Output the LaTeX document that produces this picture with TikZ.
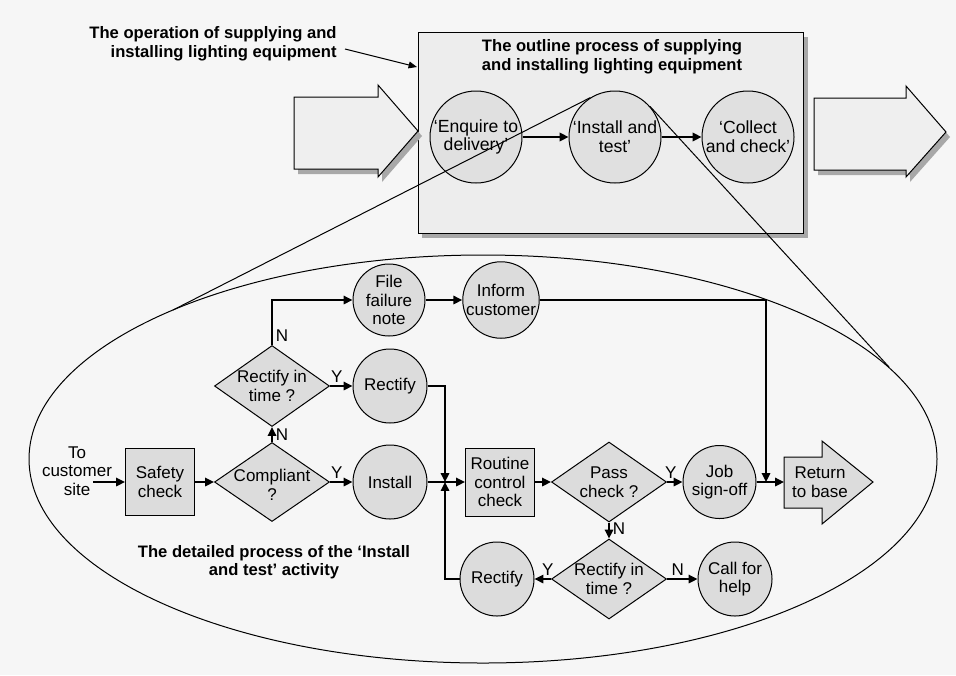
\documentclass[tikz,border=0pt]{standalone}
\usepackage{fontspec}
\setmainfont{Liberation Sans}
\usetikzlibrary{arrows.meta,shapes.geometric}
\definecolor{bg}{HTML}{F6F6F6}
\definecolor{nodefill}{HTML}{DCDCDC}
\definecolor{topfill}{HTML}{E0E0E0}
\definecolor{boxfill}{HTML}{EDEDED}
\definecolor{bigfill}{HTML}{EFEFEF}
\definecolor{shadowc}{HTML}{A8A8A8}
\begin{document}
\begin{tikzpicture}[x=0.5pt,y=-0.5pt,
  font=\fontsize{8.5}{9.3}\selectfont,
  every node/.style={inner sep=0pt},
  conn/.style={line width=0.75pt, -{Triangle[length=4.4pt,width=4.2pt]}},
  thinarrow/.style={line width=0.5pt, -{Triangle[length=4.2pt,width=3.4pt]}},
  circ/.style={circle, draw, line width=0.5pt, fill=nodefill, align=center, minimum size=37pt},
  topcirc/.style={circle, draw, line width=0.5pt, fill=topfill, align=center, minimum size=46pt, font=\fontsize{8.8}{9.4}\selectfont},
  dia/.style={diamond, draw, line width=0.5pt, fill=nodefill, minimum width=57.5pt, minimum height=40pt},
  boxn/.style={rectangle, draw, line width=0.5pt, fill=nodefill, align=center, minimum width=34.5pt, minimum height=34pt},
  txt/.style={align=center},
  yn/.style={inner sep=1.5pt},
  bold/.style={font=\fontsize{8.3}{9.3}\selectfont\bfseries}
]
\useasboundingbox (0,0) rectangle (956,675);
\fill[bg] (0,0) rectangle (956,675);

% ---- outline box with shadow
\fill[shadowc] (422,37) rectangle (808,238);
\draw[line width=0.5pt, fill=boxfill] (418,32) rectangle (803,233);

% ---- big arrows with shadow
\fill[shadowc] (298,102)--(382,102)--(382,90)--(422,136)--(382,182)--(382,174)--(298,174)--cycle;
\draw[line width=0.5pt, fill=bigfill] (294,97)--(378,97)--(378,85)--(418,131)--(378,177)--(378,169)--(294,169)--cycle;
\fill[shadowc] (818,103)--(910,103)--(910,91)--(950,137)--(910,182)--(910,175)--(818,175)--cycle;
\draw[line width=0.5pt, fill=bigfill] (814,98)--(906,98)--(906,86)--(946,132)--(906,177)--(906,170)--(814,170)--cycle;

% ---- labels
\node[bold, align=right, anchor=east] (op) at (337,44) {The operation of supplying and\\installing lighting equipment};
\coordinate (opA) at (345,49);
\coordinate (opB) at (417,67);
\draw[thinarrow] (opA) -- (opB);
\node[bold, align=center] (ttl) at (612,56.5) {The outline process of supplying\\and installing lighting equipment};

% ---- top circles
\node[topcirc] (enq) at (476,137) {‘Enquire to\\delivery’};
\node[topcirc] (ins) at (615,137) {‘Install and\\test’};
\node[topcirc] (col) at (748,137) {‘Collect\\and check’};
\draw[conn, line width=1pt] (enq) -- (ins);
\draw[conn, line width=1pt] (ins) -- (col);

% ---- ellipse and zoom lines
\draw[line width=0.5pt] (483,459) ellipse [x radius=454, y radius=204];
\coordinate (eL) at (173,310);
\coordinate (eR) at (889,367);
\draw[line width=0.5pt] (ins.122) -- (eL);
\draw[line width=0.5pt] (ins.41) -- (eR);

% ---- detailed flowchart
\node[txt] (cust) at (77,471) {To\\customer\\site};
\coordinate (custA) at (93,482);
\node[boxn, minimum height=33.5pt] (safety) at (160,482) {Safety\\check};
\node[dia, minimum height=39.5pt] (compl) at (272,482) {};
\node[txt] (complT) at (272,485) {Compliant\\?};
\node[circ] (install) at (390,482) {Install};
\node[dia, minimum height=40.5pt] (rit1) at (272,386) {};
\node[txt] (rit1T) at (272,386) {Rectify in\\time ?};
\node[circ] (rect1) at (390,386) {Rectify};
\node[circ, minimum size=36pt] (file) at (389,300) {File\\failure\\note};
\node[circ] (inform) at (501,300) {Inform\\customer};
\coordinate (j1) at (445,482);
\node[boxn] (routine) at (500,482) {Routine\\control\\check};
\node[dia] (pass) at (609,482) {};
\node[txt] (passT) at (609,482) {Pass\\check ?};
\node[circ, minimum size=36.5pt] (job) at (719.5,482) {Job\\sign-off};
\coordinate (j2) at (766,482);
\coordinate (retin) at (784,482);
\draw[line width=0.5pt, fill=nodefill] (784,457)--(822,457)--(822,441)--(873,482)--(822,524)--(822,508)--(784,508)--cycle;
\node[txt] (retT) at (820,482) {Return\\to base};
\node[dia] (rit2) at (609,579) {};
\node[txt] (rit2T) at (609,579) {Rectify in\\time ?};
\node[circ] (rect2) at (497,579) {Rectify};
\node[circ] (help) at (735,579) {Call for\\help};

\node[bold, align=center] (det) at (274,562) {The detailed process of the ‘Install\\and test’ activity};

% ---- connectors
\draw[conn] (custA) -- (safety);
\draw[conn] (safety) -- (compl);
\draw[conn] (compl) -- node[yn, pos=0.3, above]{Y} (install);
\draw[conn] (compl) -- node[yn, pos=0.5, right]{N} (rit1);
\draw[conn] (rit1) -- node[yn, pos=0.3, above]{Y} (rect1);
\draw[conn] (rit1.north) |- node[yn, pos=0.1, right]{N} (file.west);
\draw[conn] (file) -- (inform);
\draw[conn] (inform.east) -| (j2);
\draw[conn] (job) -- (retin);
\draw[conn] (rect1.east) -| (j1);
\draw[conn] (install) -- (routine);
\draw[conn] (rect2.west) -| (j1);
\draw[conn] (routine) -- (pass);
\draw[conn] (pass) -- node[yn, pos=0.25, above]{Y} (job);
\draw[conn] (pass) -- node[yn, pos=0.4, right]{N} (rit2);
\draw[conn] (rit2) -- node[yn, pos=0.2, above]{Y} (rect2);
\draw[conn] (rit2) -- node[yn, pos=0.35, above]{N} (help);
\end{tikzpicture}
\end{document}
